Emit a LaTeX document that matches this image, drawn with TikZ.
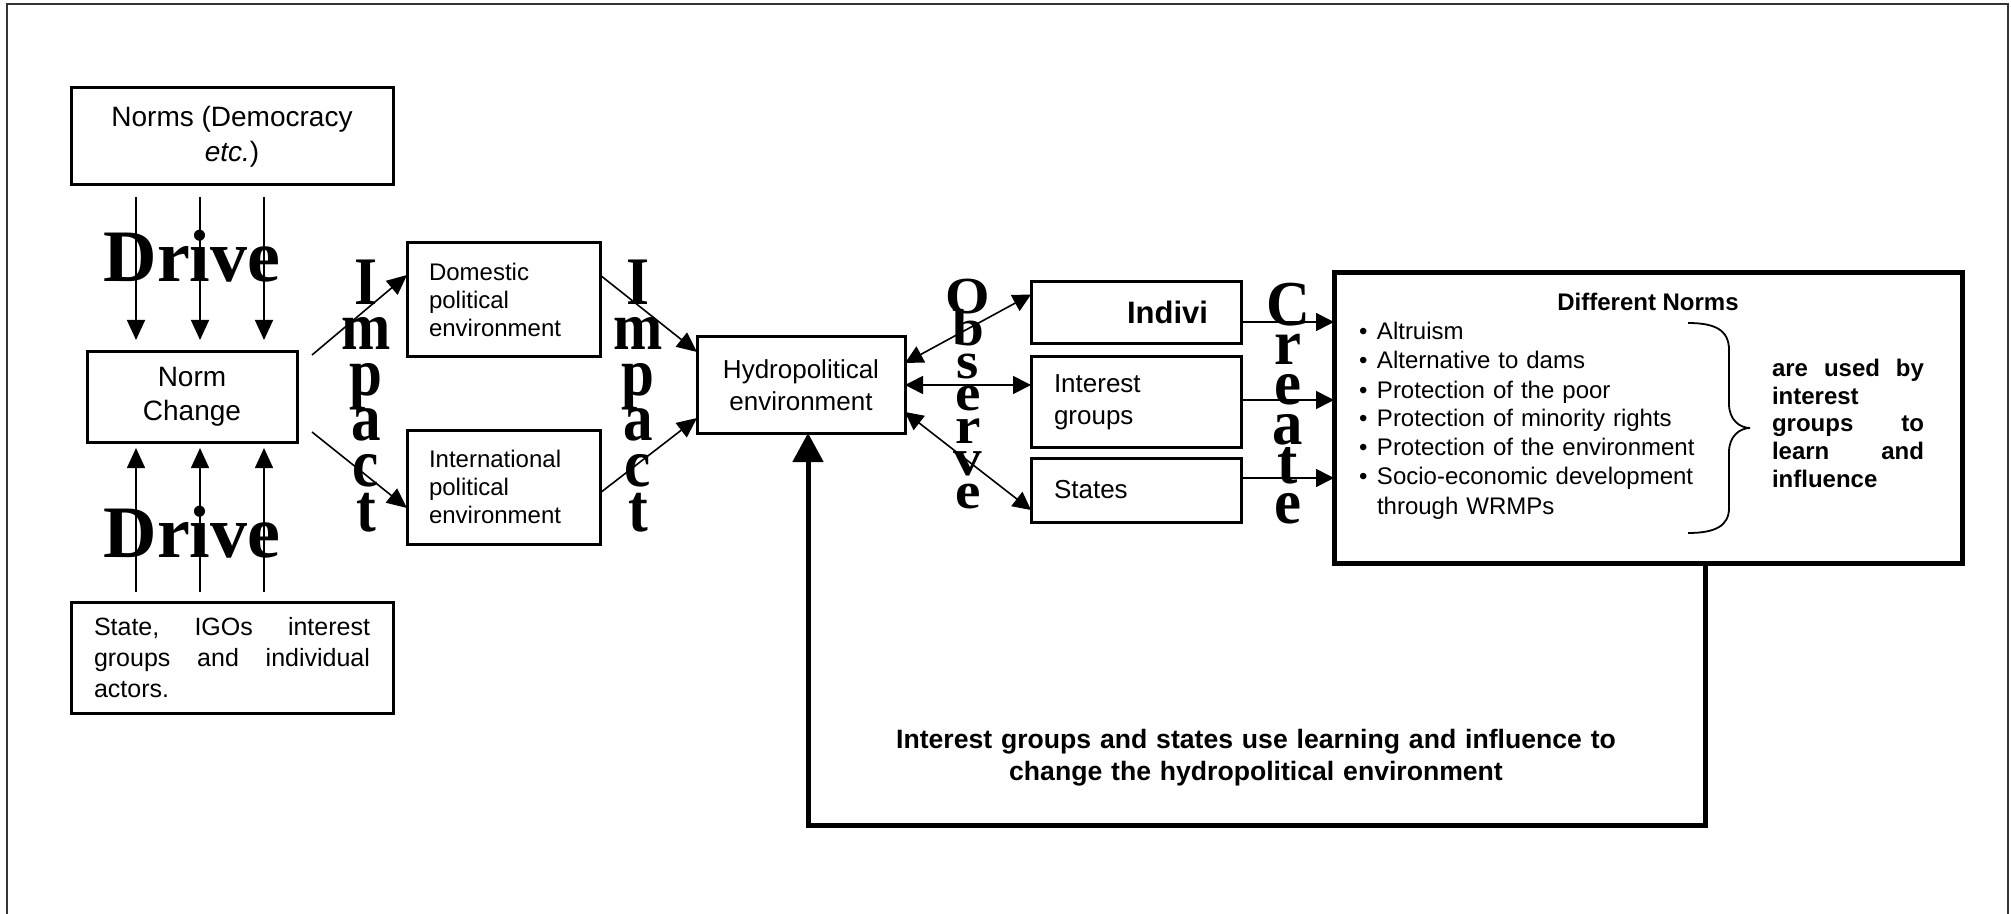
\documentclass[tikz,border=0pt]{standalone}
\usepackage{fontspec}
\setmainfont{Liberation Sans}
\newfontfamily\serifb{Liberation Serif}
\usepackage{graphicx}
\usetikzlibrary{arrows.meta}
\newcommand\fsz[2]{\fontsize{#1}{#2}\selectfont}
\newcommand\vstack[2]{\vbox{\baselineskip=#1\lineskiplimit=-\maxdimen\lineskip=0pt\halign{\hfil##\hfil\cr#2\crcr}}}
\newcommand\bl{\makebox[9pt][l]{\textbullet}}
\begin{document}
\begin{tikzpicture}[x=0.5pt,y=-0.5pt,
  box/.style={draw, line width=1.5pt, inner sep=0pt, outer sep=0pt},
  arr/.style={line width=0.8pt, -{Triangle[length=10pt,width=9pt]}},
  darr/.style={line width=0.8pt, {Triangle[length=9pt,width=9pt]}-{Triangle[length=9pt,width=9pt]}},
  carr/.style={line width=0.8pt, -{Triangle[length=9pt,width=9pt]}},
  fb/.style={line width=2.5pt, -{Triangle[length=14.5pt,width=15pt]}},
  vlet/.style={inner sep=0pt, outer sep=0pt},
  txt/.style={inner sep=0pt, outer sep=0pt},
  frame/.style={line width=1pt, black!80}]
\useasboundingbox (0,0) rectangle (2011,914);
\draw[frame] (7,914) -- (7,4) -- (2008,4) -- (2008,914);

% boxes
\node[box, minimum width=161pt, minimum height=48.5pt, align=center, font=\fsz{14}{17.5}] (norms) at (232,136.5) {Norms (Democracy\\\textit{etc.})};
\node[box, minimum width=105pt, minimum height=45pt, align=center, font=\fsz{14}{17}] (nc) at (192,397) {Norm\\Change};
\node[box, minimum width=161pt, minimum height=55.5pt, text width=138pt, align=left, font=\fsz{12.5}{15.5}] (actors) at (232,657.5) {State,\hfill IGOs\hfill interest\\groups\hfill and\hfill individual\\actors.};
\node[box, minimum width=96.5pt, minimum height=57pt, text width=74.5pt, align=left, font=\fsz{12}{13.8}] (dom) at (503.5,300) {Domestic\\political\\environment};
\node[box, minimum width=96.5pt, minimum height=57pt, text width=74.5pt, align=left, font=\fsz{12}{13.8}] (intl) at (503.5,487) {International\\political\\environment};
\node[box, minimum width=104pt, minimum height=48pt, align=center, font=\fsz{13}{16}] (hydro) at (801,385) {Hydropolitical\\environment};
\node[box, minimum width=105pt, minimum height=31pt, text width=72pt, align=right, font=\fsz{15.5}{18}\bfseries] (indivi) at (1136,312.5) {Indivi};
\node[box, minimum width=105pt, minimum height=45pt, text width=82pt, align=left, font=\fsz{13}{16}] (ig) at (1136,402) {Interest\\groups};
\node[box, minimum width=105pt, minimum height=32pt, text width=82pt, align=left, font=\fsz{13}{16}] (states) at (1136,490) {States};
\node[box, line width=2.5pt, minimum width=314pt, minimum height=145pt] (big) at (1648,418) {};

% contents of big box
\node[txt, font=\fsz{12}{14}\bfseries, anchor=base] (dn) at (1648,311) {Different Norms};
\node[txt, font=\fsz{12}{14.5}, text width=170pt, align=left, anchor=base west] (list) at (1359,340) {\bl Altruism\\\bl Alternative to dams\\\bl Protection of the poor\\\bl Protection of minority rights\\\bl Protection of the environment\\\bl Socio-economic development\\\hspace*{9pt}through WRMPs};
\draw[line width=0.9pt] (1688,323) .. controls (1715,323) and (1729,330) .. (1729,350) -- (1729,404) .. controls (1729,420) and (1740,428) .. (1750,428) .. controls (1740,428) and (1729,436) .. (1729,452) -- (1729,508) .. controls (1729,526) and (1715,533) .. (1688,533);
\node[txt, font=\fsz{12}{13.75}\bfseries, text width=76pt, align=left, anchor=base west] (used) at (1772,377) {are\hfill used\hfill by\\interest\\groups\hfill to\\learn\hfill and\\influence};

% big words
\node[txt, font=\serifb\bfseries\fsz{37}{40}, anchor=base] (drive1) at (192,282) {Drive};
\node[txt, font=\serifb\bfseries\fsz{37}{40}, anchor=base] (drive2) at (192,557) {Drive};
\node[vlet, font=\serifb\bfseries\fsz{34}{34}, anchor=north] (imp1) at (366,260) {\scalebox{0.87}[1]{\vstack{22.7pt}{I\cr m\cr p\cr a\cr c\cr t}}};
\node[vlet, font=\serifb\bfseries\fsz{34}{34}, anchor=north] (imp2) at (638,260) {\scalebox{0.87}[1]{\vstack{22.7pt}{I\cr m\cr p\cr a\cr c\cr t}}};
\node[vlet, font=\serifb\bfseries\fsz{26}{26}, anchor=north] (obs) at (968,279) {\scalebox{1.1}[1]{\vstack{16.25pt}{O\cr b\cr s\cr e\cr r\cr v\cr e}}};
\node[vlet, font=\serifb\bfseries\fsz{32}{32}, anchor=north] (cre) at (1288,283) {\scalebox{0.95}[1]{\vstack{19.8pt}{C\cr r\cr e\cr a\cr t\cr e}}};

% drive arrows
\coordinate (d1) at (136,0);
\coordinate (d2) at (200,0);
\coordinate (d3) at (264,0);
\foreach \c in {d1,d2,d3} {
  \draw[arr, shorten <=6pt, shorten >=6pt] (norms.south -| \c) -- (nc.north -| \c);
  \draw[arr, shorten <=5pt, shorten >=3pt] (actors.north -| \c) -- (nc.south -| \c);
}

% impact arrows
\draw[arr] ([shift={(15,3)}]nc.north east) -- ([shift={(0,-25)}]dom.west);
\draw[arr] ([shift={(15,-10)}]nc.south east) -- ([shift={(0,21)}]intl.west);
\draw[arr] ([shift={(0,-25)}]dom.east) -- ([shift={(0,-33)}]hydro.west);
\draw[arr] ([shift={(0,6)}]intl.east) -- ([shift={(0,33)}]hydro.west);

% observe arrows
\draw[darr] ([shift={(0,-22)}]hydro.east) -- ([shift={(0,-18)}]indivi.west);
\draw[darr] ([shift={(0,0)}]hydro.east) -- ([shift={(0,-17)}]ig.west);
\draw[darr] ([shift={(0,27)}]hydro.east) -- ([shift={(0,20)}]states.west);

% create arrows
\coordinate (p1) at ([shift={(0,9.5)}]indivi.east);
\coordinate (p2) at ([shift={(0,-2)}]ig.east);
\coordinate (p3) at ([shift={(0,-12)}]states.east);
\draw[carr] (p1) -- (p1 -| big.west);
\draw[carr] (p2) -- (p2 -| big.west);
\draw[carr] (p3) -- (p3 -| big.west);

% feedback
\coordinate (fbr) at (1705,825);
\coordinate (fbl) at (808,825);
\draw[fb] (big.south -| fbr) -- (fbr) -- (fbl) -- (fbl |- hydro.south);
\node[txt, font=\fsz{13.3}{16}\bfseries, text width=420pt, align=center, anchor=base] (fbtext) at (1256,748) {Interest groups and states use learning and influence to\\change the hydropolitical environment};
\end{tikzpicture}
\end{document}
